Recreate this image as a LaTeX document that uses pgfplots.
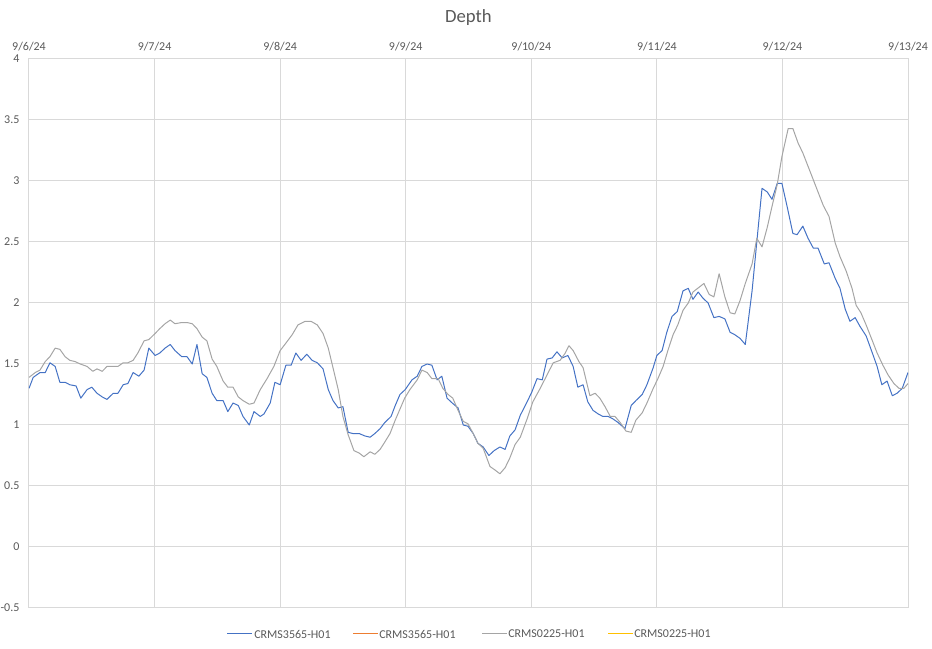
\documentclass[border=0pt]{standalone}
\usepackage{fontspec}
\setmainfont{Carlito}
\usepackage{pgfplots}
\pgfplotsset{compat=1.18}
\definecolor{sblue}{HTML}{4472C4}
\definecolor{sorange}{HTML}{ED7D31}
\definecolor{sgray}{HTML}{A5A5A5}
\definecolor{syellow}{HTML}{FFC000}
\definecolor{gridc}{HTML}{D9D9D9}
\definecolor{txt}{HTML}{595959}
\begin{document}
\begin{tikzpicture}
\begin{axis}[
  name=ax,
  scale only axis,
  width=659.25pt, height=411.75pt,
  xmin=0, xmax=168, ymin=-0.5, ymax=4,
  xtick={0,24,48,72,96,120,144,168},
  xticklabels={9/6/24,9/7/24,9/8/24,9/9/24,9/10/24,9/11/24,9/12/24,9/13/24},
  xticklabel pos=upper,
  ytick={-0.5,0,0.5,1,1.5,2,2.5,3,3.5,4},
  yticklabels={-0.5,0,0.5,1,1.5,2,2.5,3,3.5,4},
  major tick length=0pt,
  grid=major,
  major grid style={draw=gridc, line width=0.75pt},
  axis line style={draw=gridc, line width=0.75pt},
  ticklabel style={font=\fontsize{9}{10}\selectfont, text=txt},
  yticklabel style={inner sep=0pt, xshift=-7pt},
  xticklabel style={inner sep=0pt, yshift=6pt},
  title={Depth},
  title style={at={(0.5,1)}, anchor=center, yshift=24.75pt, font=\fontsize{14}{16}\selectfont, text=txt},
  every axis plot/.append style={line width=0.75pt, line join=round},
]
\addplot[color=sblue, mark=none] coordinates {
(0,1.30)(0.8,1.39)(2.1,1.43)(3.1,1.43)(4.0,1.51)(5.0,1.48)(5.9,1.35)(6.9,1.35)(7.8,1.33)(9.0,1.32)
(9.9,1.22)(11.1,1.29)(12.0,1.31)(13.0,1.26)(14.0,1.23)(14.9,1.21)(16.1,1.26)(17.0,1.26)(18.0,1.33)(18.9,1.34)
(19.9,1.43)(21.0,1.40)(22.0,1.45)(22.9,1.63)(24.1,1.57)(25.0,1.59)(26.0,1.63)(27.0,1.66)(27.9,1.61)(29.2,1.56)
(30.2,1.56)(31.2,1.50)(32.1,1.66)(33.1,1.42)(34.0,1.39)(35.0,1.26)(35.9,1.20)(37.1,1.20)(38.0,1.11)(39.0,1.18)
(40.0,1.16)(40.9,1.07)(42.1,1.00)(43.0,1.11)(44.2,1.07)(44.9,1.09)(46.1,1.18)(47.0,1.35)(48.0,1.33)(49.1,1.49)
(50.1,1.49)(51.0,1.59)(52.0,1.53)(53.1,1.58)(54.1,1.53)(55.1,1.51)(56.2,1.46)(57.2,1.29)(58.1,1.20)(59.1,1.14)
(60.0,1.15)(61.0,0.94)(61.9,0.93)(63.1,0.93)(64.2,0.91)(65.2,0.90)(66.1,0.93)(67.1,0.97)(68.0,1.02)(69.2,1.07)
(70.0,1.16)(70.9,1.25)(71.9,1.29)(73.2,1.37)(74.2,1.40)(75.1,1.48)(76.1,1.50)(77.0,1.49)(78.0,1.37)(78.9,1.40)
(79.9,1.22)(80.9,1.18)(82.0,1.14)(83.0,1.00)(83.9,0.99)(84.9,0.93)(85.8,0.85)(86.8,0.82)(87.9,0.75)(88.9,0.79)
(90.0,0.82)(91.0,0.80)(91.9,0.91)(92.9,0.96)(93.9,1.08)(95.2,1.19)(96.1,1.27)(97.1,1.38)(98.1,1.37)(99.0,1.54)
(100.0,1.55)(100.9,1.60)(101.9,1.55)(103.0,1.57)(104.0,1.48)(104.9,1.31)(105.9,1.33)(106.8,1.19)(107.8,1.12)(108.8,1.09)
(109.7,1.07)(110.7,1.07)(111.6,1.05)(112.6,1.02)(113.9,0.97)(115.1,1.16)(116.0,1.20)(117.2,1.25)(118.1,1.33)(119.3,1.47)
(120.0,1.57)(121.0,1.61)(121.9,1.76)(122.9,1.89)(123.9,1.93)(125.0,2.10)(126.0,2.12)(126.9,2.03)(127.9,2.09)(128.8,2.04)
(129.8,2.00)(130.9,1.88)(131.9,1.89)(133.0,1.87)(134.0,1.76)(134.9,1.74)(135.9,1.71)(136.9,1.66)(138.2,2.10)(139.1,2.50)
(140.1,2.94)(141.1,2.91)(142.0,2.85)(143.0,2.98)(143.9,2.98)(144.9,2.79)(146.0,2.57)(146.8,2.56)(147.9,2.63)(148.9,2.53)
(149.9,2.45)(150.8,2.45)(152.0,2.32)(152.9,2.33)(154.1,2.20)(155.0,2.12)(156.0,1.95)(156.9,1.85)(157.9,1.88)(158.8,1.81)
(160.0,1.73)(161.1,1.60)(162.1,1.48)(163.0,1.33)(164.0,1.36)(165.0,1.24)(165.9,1.26)(166.9,1.30)(168.0,1.43)
};
\addplot[color=sgray, mark=none] coordinates {
(0,1.39)(1.2,1.43)(2.1,1.45)(3.1,1.52)(4.0,1.56)(5.0,1.63)(5.9,1.62)(6.9,1.56)(7.8,1.53)(8.8,1.52)
(9.8,1.50)(11.1,1.48)(12.2,1.44)(13.0,1.46)(14.0,1.44)(14.9,1.48)(16.1,1.48)(17.0,1.48)(18.0,1.51)(18.9,1.51)
(19.9,1.53)(20.8,1.59)(22.0,1.69)(22.9,1.70)(24.1,1.75)(25.0,1.79)(26.0,1.83)(27.0,1.86)(27.9,1.83)(29.2,1.84)
(30.2,1.84)(31.2,1.83)(32.1,1.79)(33.1,1.72)(34.0,1.69)(35.0,1.54)(35.9,1.48)(37.1,1.36)(38.0,1.31)(39.0,1.31)
(40.0,1.23)(40.9,1.20)(42.1,1.17)(43.0,1.18)(44.2,1.29)(45.5,1.38)(46.8,1.48)(48.0,1.61)(48.9,1.66)(50.3,1.74)
(51.4,1.82)(52.8,1.85)(53.9,1.85)(55.1,1.82)(56.2,1.75)(57.2,1.63)(58.1,1.47)(59.1,1.29)(60.0,1.07)(61.0,0.92)
(62.1,0.79)(63.1,0.77)(64.0,0.74)(65.2,0.78)(66.1,0.76)(67.1,0.80)(68.0,0.86)(69.0,0.93)(70.0,1.04)(71.0,1.14)
(71.8,1.22)(72.8,1.29)(74.2,1.37)(75.1,1.45)(76.1,1.43)(77.0,1.38)(78.2,1.38)(79.1,1.30)(80.1,1.25)(81.0,1.22)
(82.0,1.12)(83.0,1.03)(83.9,1.01)(84.9,0.93)(85.8,0.85)(86.8,0.81)(88.1,0.66)(89.1,0.63)(90.0,0.60)(91.0,0.65)
(91.9,0.73)(92.9,0.84)(93.9,0.90)(95.2,1.05)(96.3,1.19)(97.7,1.30)(99.0,1.41)(100.2,1.51)(101.5,1.53)(102.5,1.59)
(103.2,1.65)(104.0,1.61)(105.1,1.52)(105.9,1.47)(107.2,1.24)(108.2,1.26)(109.1,1.22)(110.1,1.15)(111.1,1.07)(112.0,1.07)
(113.0,1.02)(114.1,0.95)(115.1,0.94)(116.0,1.04)(117.2,1.10)(118.1,1.18)(119.3,1.30)(120.2,1.38)(121.2,1.48)(122.1,1.61)
(123.1,1.74)(124.0,1.82)(125.0,1.94)(126.0,2.00)(126.9,2.09)(128.1,2.13)(129.0,2.16)(130.0,2.07)(130.9,2.05)(131.9,2.24)
(133.0,2.05)(134.0,1.92)(134.9,1.91)(135.9,2.02)(136.9,2.16)(138.2,2.32)(139.1,2.53)(140.1,2.46)(141.1,2.62)(142.0,2.79)
(143.0,2.97)(143.9,3.20)(145.1,3.43)(146.0,3.43)(147.0,3.31)(147.9,3.23)(148.9,3.12)(149.9,3.01)(150.8,2.91)(151.8,2.80)
(152.9,2.71)(154.1,2.49)(155.0,2.38)(156.2,2.26)(157.3,2.12)(158.1,1.98)(159.0,1.92)(160.0,1.82)(161.1,1.70)(162.1,1.59)
(163.2,1.49)(164.2,1.41)(165.3,1.34)(166.3,1.30)(167.2,1.30)(168.0,1.34)
};
\end{axis}
% legend keys (lines first, then the texts)
\draw[sblue, line width=0.75pt] ([xshift=148.5pt,yshift=-19.5pt]ax.south west) -- ++(18.75pt,0pt);
\draw[sorange, line width=0.75pt] ([xshift=243pt,yshift=-19.5pt]ax.south west) -- ++(18.75pt,0pt);
\draw[sgray, line width=0.75pt] ([xshift=339.75pt,yshift=-19.5pt]ax.south west) -- ++(18.75pt,0pt);
\draw[syellow, line width=0.75pt] ([xshift=434.25pt,yshift=-19.5pt]ax.south west) -- ++(18.75pt,0pt);
\node[anchor=west, inner sep=0pt, text=txt, font=\fontsize{9}{10}\selectfont] at ([xshift=168.75pt,yshift=-19.5pt]ax.south west) {CRMS3565-H01};
\node[anchor=west, inner sep=0pt, text=txt, font=\fontsize{9}{10}\selectfont] at ([xshift=262.5pt,yshift=-19.5pt]ax.south west) {CRMS3565-H01};
\node[anchor=west, inner sep=0pt, text=txt, font=\fontsize{9}{10}\selectfont] at ([xshift=359.25pt,yshift=-19.5pt]ax.south west) {CRMS0225-H01};
\node[anchor=west, inner sep=0pt, text=txt, font=\fontsize{9}{10}\selectfont] at ([xshift=453.75pt,yshift=-19.5pt]ax.south west) {CRMS0225-H01};
\pgfresetboundingbox
\path ([xshift=-21.75pt,yshift=-30.75pt]ax.south west) rectangle ([xshift=18pt,yshift=44.25pt]ax.north east);
\end{tikzpicture}
\end{document}
